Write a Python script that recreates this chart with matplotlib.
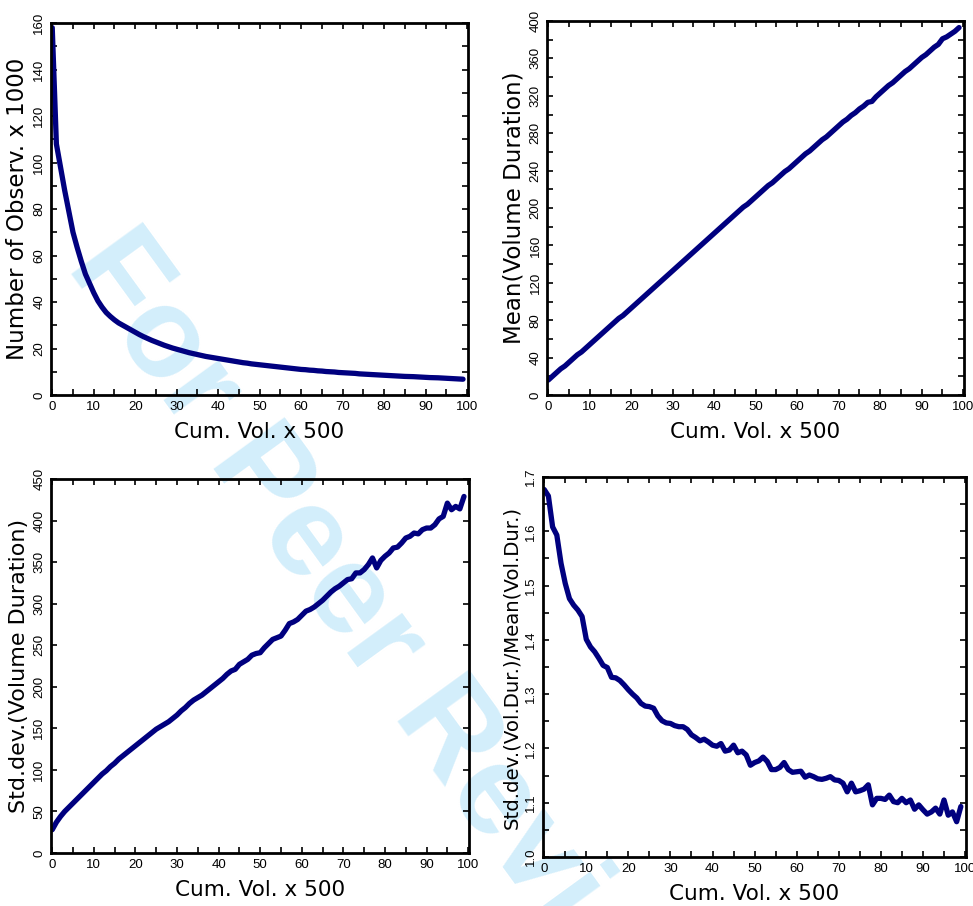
import numpy as np
import matplotlib as mpl
mpl.use('Agg')
import matplotlib.pyplot as plt
from matplotlib.ticker import MultipleLocator

# cumulative volume steps (x 500)
cum_vol = list(range(100))

# number of observations x 1000
n_obs = [158, 108, 98, 88, 79, 70, 63.5, 57.5, 52, 48, 44, 40.5, 37.8, 35.5, 33.8, 32.3, 31, 30, 29, 28,
         27, 26, 25.1, 24.3, 23.5, 22.8, 22.1, 21.4, 20.8, 20.2, 19.7, 19.2, 18.7, 18.2, 17.8, 17.4, 17.0, 16.6, 16.3, 16.0,
         15.7, 15.4, 15.1, 14.8, 14.5, 14.2, 13.9, 13.7, 13.4, 13.2, 13.0, 12.8, 12.6, 12.4, 12.2, 12.0, 11.8, 11.6, 11.4, 11.2,
         11.0, 10.9, 10.7, 10.6, 10.4, 10.3, 10.1, 10.0, 9.9, 9.7, 9.6, 9.5, 9.4, 9.3, 9.1, 9.0, 8.9, 8.8, 8.7, 8.6,
         8.5, 8.4, 8.3, 8.2, 8.1, 8.0, 7.95, 7.9, 7.8, 7.7, 7.6, 7.5, 7.45, 7.4, 7.3, 7.2, 7.1, 7.0, 6.9, 6.8]

# mean volume duration
mean_dur = [16, 20, 24, 28, 31, 35, 39, 43, 46, 50, 54, 58, 62, 66, 70, 74, 78, 82, 85, 89,
            93, 97, 101, 105, 109, 113, 117, 121, 125, 129, 133, 137, 141, 145, 149, 153, 157, 161, 165, 169,
            173, 177, 181, 185, 189, 193, 197, 201, 204, 208, 212, 216, 220, 224, 227, 231, 235, 239, 242, 246,
            250, 254, 258, 261, 265, 269, 273, 276, 280, 284, 288, 292, 295, 299, 302, 306, 309, 313, 314, 319,
            323, 327, 331, 334, 338, 342, 346, 349, 353, 357, 361, 364, 368, 372, 375, 381, 383, 386, 389, 393]

# std dev of volume duration
std_dur = [28, 37, 44, 50, 55, 60, 65, 70, 75, 80, 85, 90, 95, 99, 104, 108, 113, 117, 121, 125,
           129, 133, 137, 141, 145, 149, 152, 155, 158, 162, 166, 171, 175, 180, 184, 187, 190, 194, 198, 202,
           206, 210, 215, 219, 221, 227, 230, 233, 238, 240, 241, 247, 252, 257, 259, 261, 268, 276, 278, 281,
           286, 291, 293, 296, 300, 304, 309, 314, 318, 321, 325, 329, 330, 337, 337, 341, 347, 355, 343, 352,
           357, 361, 367, 368, 373, 379, 381, 385, 384, 389, 391, 391, 395, 402, 405, 421, 413, 417, 414, 429]

# std / mean ratio
ratio = [1.677, 1.665, 1.608, 1.593, 1.541, 1.504, 1.476, 1.464, 1.455, 1.443,
         1.401, 1.387, 1.378, 1.366, 1.353, 1.349, 1.331, 1.330, 1.325, 1.317,
         1.308, 1.300, 1.293, 1.283, 1.278, 1.277, 1.274, 1.260, 1.251, 1.247,
         1.246, 1.242, 1.240, 1.240, 1.235, 1.225, 1.220, 1.214, 1.217, 1.212,
         1.206, 1.204, 1.209, 1.195, 1.197, 1.206, 1.192, 1.195, 1.188, 1.169,
         1.174, 1.177, 1.184, 1.176, 1.161, 1.161, 1.165, 1.174, 1.161, 1.156,
         1.157, 1.158, 1.147, 1.151, 1.148, 1.144, 1.143, 1.145, 1.148, 1.142,
         1.141, 1.136, 1.120, 1.136, 1.120, 1.122, 1.125, 1.133, 1.096, 1.108,
         1.108, 1.106, 1.114, 1.102, 1.100, 1.108, 1.100, 1.105, 1.088, 1.096,
         1.087, 1.079, 1.083, 1.090, 1.079, 1.105, 1.077, 1.083, 1.065, 1.093]

x_label = 'Cum. Vol. x 500'
y_labels = ['Number of Observ. x 1000', 'Mean(Volume Duration)',
            'Std.dev.(Volume Duration)', 'Std.dev.(Vol.Dur.)/Mean(Vol.Dur.)']

line_col = '#00007f'
lab_font = 'DejaVu Sans'
tick_font = 'Liberation Sans'

fig = plt.figure(figsize=(9.73, 9.06), dpi=100)

# watermark behind everything
fig.text(0.068, 0.706, 'For Peer Review', fontsize=92, fontweight='bold',
         family='Liberation Sans', color='#d3eefb', rotation=-54,
         rotation_mode='anchor', ha='left', va='baseline', zorder=-1)

boxes = [[0.0524, 0.564, 0.4286, 0.4106],
         [0.5622, 0.564, 0.4286, 0.4128],
         [0.0524, 0.0585, 0.4296, 0.4128],
         [0.558, 0.0541, 0.4347, 0.4194]]
series = [n_obs, mean_dur, std_dur, ratio]
ylims = [(0, 160), (0, 400), (0, 450), (1.0, 1.7)]
majors = [20, 40, 50, 0.1]
minors = [10, 20, 50, 0.05]
ylab_sizes = [16.5, 16.5, 16, 14.2]

for i in range(4):
    ax = fig.add_axes(boxes[i])
    ax.set_facecolor('none')
    ax.plot(cum_vol, series[i], color=line_col, lw=3.8, solid_capstyle='round',
            solid_joinstyle='round')
    ax.set_xlim(-0.3, 100.2)
    ax.set_ylim(*ylims[i])
    ax.xaxis.set_major_locator(MultipleLocator(10))
    ax.xaxis.set_minor_locator(MultipleLocator(5))
    ax.yaxis.set_major_locator(MultipleLocator(majors[i]))
    ax.yaxis.set_minor_locator(MultipleLocator(minors[i]))
    ax.tick_params(which='both', direction='in', top=True, right=True,
                   length=4, width=1.2, labelsize=9.5, pad=4)
    ax.tick_params(axis='y', labelrotation=90)
    for lbl in ax.get_yticklabels():
        lbl.set_va('center')
        lbl.set_family(tick_font)
    for lbl in ax.get_xticklabels():
        lbl.set_family(tick_font)
    if i == 3:
        ax.yaxis.set_major_formatter(mpl.ticker.FormatStrFormatter('%.1f'))
    for s in ax.spines.values():
        s.set_linewidth(2)
    ax.set_xlabel(x_label, family=lab_font, fontsize=15.5, labelpad=7)
    ax.set_ylabel(y_labels[i], family=lab_font, fontsize=ylab_sizes[i], labelpad=3)

plt.savefig('out.png', dpi=100)
